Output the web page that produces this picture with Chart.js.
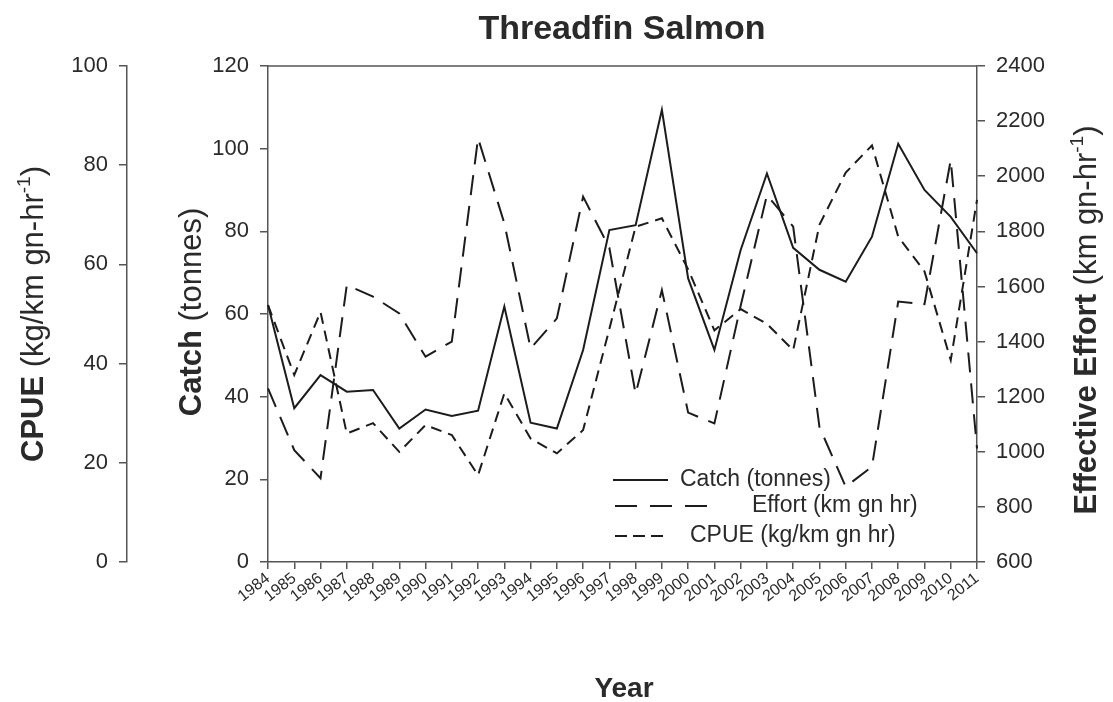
<!DOCTYPE html>
<html>
<head>
<meta charset="utf-8">
<script src="https://cdn.jsdelivr.net/npm/chart.js@4.4.1/dist/chart.umd.min.js"></script>
<style>
  html, body { margin: 0; padding: 0; background: #ffffff; }
  canvas { display: block; }
</style>
</head>
<body>
<canvas id="c" width="1113" height="702"></canvas>
<script>
// ---- Data ----
const years = ['1984','1985','1986','1987','1988','1989','1990','1991','1992','1993',
               '1994','1995','1996','1997','1998','1999','2000','2001','2002','2003',
               '2004','2005','2006','2007','2008','2009','2010','2011'];
const catchTonnes = [62.2, 37.2, 45.2, 41.2, 41.6, 32.3, 36.9, 35.3, 36.6, 61.8,
                     33.7, 32.3, 51.3, 80.3, 81.5, 109.4, 68.6, 51.3, 75.5, 94.0,
                     76.0, 70.7, 67.8, 78.7, 101.2, 90.0, 83.5, 74.7];
const effort = [1230, 1006, 904, 1605, 1563, 1502, 1345, 1400, 2138, 1829,
                1375, 1484, 1926, 1740, 1210, 1587, 1142, 1103, 1530, 1932,
                1817, 1090, 873, 946, 1545, 1536, 2059, 1012];
const cpue = [51.8, 37.7, 50.4, 25.9, 28.0, 22.2, 27.6, 25.6, 17.5, 34.0,
              24.9, 21.9, 26.6, 47.0, 67.6, 69.3, 59.0, 46.7, 51.0, 48.0,
              42.7, 68.0, 78.5, 84.0, 65.6, 58.6, 40.7, 73.0];
const catchTicks = [0, 120, 20];
const cpueTicks = [0, 100, 20];
const effortTicks = [600, 2400, 200];

const FONT = '"Liberation Sans", Arial, Helvetica, sans-serif';
const INK = '#1c1c1c';
const AXIS = '#555555';
const TXT = '#2a2a2a';

Chart.defaults.font.family = FONT;
Chart.defaults.color = TXT;

// draw a sequence of text segments along a rotated baseline, centred
function drawRotated(ctx, x, yc, segs) {
  ctx.save();
  ctx.translate(x, yc);
  ctx.rotate(-Math.PI / 2);
  ctx.textBaseline = 'alphabetic';
  ctx.textAlign = 'left';
  let total = 0;
  segs.forEach(s => { ctx.font = s.font; s.w = ctx.measureText(s.text).width; total += s.w; });
  let px = -total / 2;
  segs.forEach(s => {
    ctx.font = s.font;
    ctx.fillStyle = TXT;
    ctx.fillText(s.text, px, s.rise ? -s.rise : 0);
    px += s.w;
  });
  ctx.restore();
}

const decorPlugin = {
  id: 'decor',
  beforeDatasetsDraw(chart) {
    const ctx = chart.ctx;
    const a = chart.chartArea;
    // top frame line
    ctx.save();
    ctx.strokeStyle = AXIS;
    ctx.lineWidth = 1.5;
    ctx.beginPath();
    ctx.moveTo(a.left, a.top);
    ctx.lineTo(a.right, a.top);
    ctx.stroke();

    // legend
    const lg = [
      { dash: [], x0: 613, x1: 668, y: 480, tx: 680, label: 'Catch (tonnes)' },
      { dash: [22, 13], x0: 615, x1: 710, y: 506, tx: 752, label: 'Effort (km gn hr)' },
      { dash: [12, 6], x0: 615, x1: 664, y: 536, tx: 690, label: 'CPUE (kg/km gn hr)' }
    ];
    lg.forEach(l => {
      ctx.strokeStyle = INK;
      ctx.lineWidth = 2;
      ctx.setLineDash(l.dash);
      ctx.beginPath();
      ctx.moveTo(l.x0, l.y);
      ctx.lineTo(l.x1, l.y);
      ctx.stroke();
      ctx.setLineDash([]);
      ctx.font = '23px ' + FONT;
      ctx.fillStyle = TXT;
      ctx.textAlign = 'left';
      ctx.textBaseline = 'middle';
      ctx.fillText(l.label, l.tx, l.y);
    });
    ctx.restore();
  },
  afterDraw(chart) {
    const ctx = chart.ctx;
    const a = chart.chartArea;
    const yc = (a.top + a.bottom) / 2;
    const B = 'bold 31px ' + FONT;
    const R = '31px ' + FONT;
    const S = '19px ' + FONT;
    ctx.save();
    // chart title
    ctx.font = 'bold 34px ' + FONT;
    ctx.fillStyle = TXT;
    ctx.textAlign = 'center';
    ctx.textBaseline = 'alphabetic';
    ctx.fillText('Threadfin Salmon', 622, 39);
    // x title
    ctx.font = 'bold 28px ' + FONT;
    ctx.fillText('Year', 624, 697);
    ctx.restore();

    drawRotated(ctx, 43, yc, [
      { text: 'CPUE', font: B },
      { text: ' (kg/km gn-hr', font: R },
      { text: '-1', font: S, rise: 13 },
      { text: ')', font: R }
    ]);
    drawRotated(ctx, 201, yc - 2, [
      { text: 'Catch', font: B },
      { text: ' (tonnes)', font: R }
    ]);
    drawRotated(ctx, 1096, yc + 6, [
      { text: 'Effective Effort', font: B },
      { text: ' (km gn-hr', font: R },
      { text: '-1', font: S, rise: 13 },
      { text: ')', font: R }
    ]);
  }
};

function yScale(pos, weight, ticks, width, labelFontSize) {
  return {
    type: 'linear',
    position: pos,
    weight: weight,
    min: ticks[0],
    max: ticks[1],
    ticks: {
      stepSize: ticks[2],
      font: { size: labelFontSize },
      color: TXT,
      padding: 11,
      callback: (v) => String(v)
    },
    grid: {
      display: true,
      drawOnChartArea: false,
      drawTicks: true,
      tickLength: 8,
      color: AXIS,
      lineWidth: 1.5
    },
    border: { display: true, color: AXIS, width: 1.5 },
    title: { display: false },
    afterFit(scale) { scale.width = width; }
  };
}

new Chart(document.getElementById('c'), {
  type: 'line',
  data: {
    labels: years,
    datasets: [
      {
        label: 'Catch (tonnes)',
        data: catchTonnes,
        yAxisID: 'yCatch',
        borderColor: INK,
        borderWidth: 2,
        pointRadius: 0,
        tension: 0,
        fill: false
      },
      {
        label: 'Effort (km gn hr)',
        data: effort,
        yAxisID: 'yEffort',
        borderColor: INK,
        borderWidth: 2,
        borderDash: [20, 11],
        pointRadius: 0,
        tension: 0,
        fill: false
      },
      {
        label: 'CPUE (kg/km gn hr)',
        data: cpue,
        yAxisID: 'yCpue',
        borderColor: INK,
        borderWidth: 2,
        borderDash: [11, 7],
        pointRadius: 0,
        tension: 0,
        fill: false
      }
    ]
  },
  options: {
    responsive: false,
    animation: false,
    events: [],
    layout: { padding: { top: 66, left: 0, right: 0, bottom: 0 } },
    plugins: {
      legend: { display: false },
      title: { display: false },
      tooltip: { enabled: false }
    },
    scales: {
      x: {
        type: 'category',
        offset: false,
        ticks: {
          autoSkip: false,
          maxRotation: 38,
          minRotation: 38,
          font: { size: 16 },
          color: TXT,
          padding: 0
        },
        grid: {
          display: true,
          drawOnChartArea: false,
          drawTicks: true,
          tickLength: 7,
          color: AXIS,
          lineWidth: 1.5
        },
        border: { display: true, color: AXIS, width: 1.5 },
        afterFit(scale) { scale.height = 140; }
      },
      yCpue: yScale('left', 2, cpueTicks, 127, 22),
      yCatch: yScale('left', 1, catchTicks, 141, 22),
      yEffort: yScale('right', 1, effortTicks, 136, 22)
    }
  },
  plugins: [decorPlugin]
});
</script>
</body>
</html>
